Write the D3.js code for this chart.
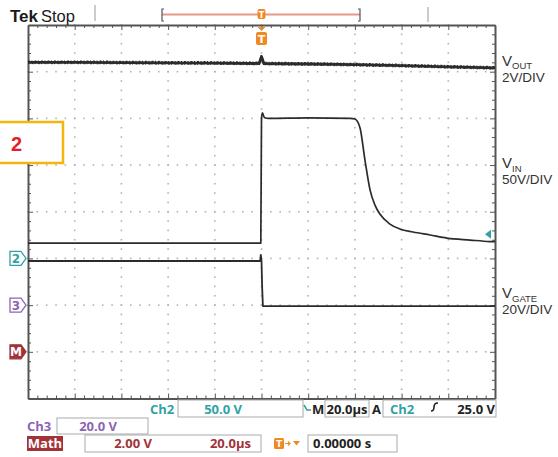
<!DOCTYPE html>
<meta charset="utf-8">
<html>
<head><title>Tek scope capture</title>
<script src="https://d3js.org/d3.v7.min.js"></script>
<style>
    body { margin: 0; background: #fff; }
    .grat { fill: #b3b3b3; }
    .frame path, .frame line { stroke: #555; }
    .trace { fill: none; stroke: #2b2b2b; stroke-linejoin: round; }
    .rd { font-family: "Open Sans", "DejaVu Sans", sans-serif; font-weight: bold; font-size: 13px; }
    .box { fill: #fff; stroke: #aaa; stroke-width: 1; }
    .lbl { font-family: "Liberation Sans", Arial, sans-serif; font-size: 13.5px; fill: #333; }
</style>
</head>
<body>
<script>
// screen geometry of the graticule (10 x 8 divisions)
var W = 558, H = 457;
var gLeft = 28, gRight = 495, gTop = 25, gBottom = 398.5;

// time axis in microseconds, 20us/div, trigger in the middle
var timeDomain = [-100, 100];

// channel settings: volts per division and ground position (divisions from center)
var ch1 = {vdiv: 2, pos: -2.8};
var ch2 = {vdiv: 50, pos: -1};
var ch3 = {vdiv: 20, pos: -2};
var trigLevel = 26;  // V on ch2 (arrow position)

// VOUT (ch1)
var voutT = [-100, -80, -60, -40, -20, -1, 0, 1, 20, 40, 60, 80, 100];
var voutV = [12.0, 12.0, 11.99, 11.98, 11.97, 11.95, 12.25, 11.95, 11.93, 11.9, 11.86, 11.81, 11.76];

// VIN (ch2)
var vinT = [-100, -0.3, 0, 0.4, 1.2, 3, 20, 38, 40, 42.2, 44.3, 46.5, 48.6, 50.7, 55, 59.3, 64.9, 72.2, 79.4, 89.3, 97.8, 100];
var vinV = [16.5, 16.5, 150, 156, 151, 150, 150.5, 150, 149.3, 139.8, 105.4, 73.2, 57.1, 47.5, 36.8, 31.5, 28.3, 25.1, 21.8, 19.7, 18.1, 17.9];

// VGATE (ch3)
var gateT = [-100, -0.6, -0.3, 0, 0.3, 0.6, 1.5, 100];
var gateV = [18.9, 18.9, 21.5, 19, 7, -0.4, -0.4, -0.4];

// readout texts
var readRow1 = ["Ch2", "50.0 V", "M", "20.0\u00b5s", "A", "Ch2", "25.0 V"];
var readRow2 = ["Ch3", "20.0 V"];
var readRow3 = ["Math", "2.00 V", "20.0\u00b5s", "0.00000 s"];

var teal = "#2fa3a6", purple = "#8c64b4", maroon = "#a2323a", orange = "#ef8a22";

var svg = d3.select("body").append("svg").attr("width", W).attr("height", H);

var x = d3.scaleLinear().domain(timeDomain).range([gLeft, gRight]);
var yDiv = d3.scaleLinear().domain([-4, 4]).range([gBottom, gTop]);
var xDiv = d3.scaleLinear().domain([-5, 5]).range([gLeft, gRight]);
function yOf(ch) { return function(v) { return yDiv(v / ch.vdiv + ch.pos); }; }

// graticule dots
var minor = d3.range(-25, 26).map(function(i) { return i / 5; });
var minorV = d3.range(-20, 21).map(function(i) { return i / 5; });
var g = svg.append("g");
d3.range(-4, 5).forEach(function(i) {
    g.selectAll(null).data(minorV).enter().append("rect").attr("class", "grat")
        .attr("x", xDiv(i) - 0.8).attr("y", function(d) { return yDiv(d) - 0.8; })
        .attr("width", 1.6).attr("height", 1.6);
});
d3.range(-3, 4).forEach(function(j) {
    g.selectAll(null).data(minor).enter().append("rect").attr("class", "grat")
        .attr("x", function(d) { return xDiv(d) - 0.8; }).attr("y", yDiv(j) - 0.8)
        .attr("width", 1.6).attr("height", 1.6);
});

// frame with inward ticks
function tickLen(d) { return Math.abs(d - Math.round(d)) < 1e-6 ? 5 : 3; }
function frameAxis(axis, transform) {
    var a = svg.append("g").attr("class", "frame").attr("transform", transform).call(axis);
    a.selectAll("text").remove();
    a.select(".domain").attr("stroke-width", 2);
    return a;
}
var fa;
fa = frameAxis(d3.axisBottom(xDiv).tickValues(minor).tickSizeOuter(0), "translate(0," + gTop + ")");
fa.selectAll(".tick line").attr("y2", function(d) { return tickLen(d); });
fa = frameAxis(d3.axisTop(xDiv).tickValues(minor).tickSizeOuter(0), "translate(0," + gBottom + ")");
fa.selectAll(".tick line").attr("y2", function(d) { return -tickLen(d); });
fa = frameAxis(d3.axisRight(yDiv).tickValues(minorV).tickSizeOuter(0), "translate(" + gLeft + ",0)");
fa.selectAll(".tick line").attr("x2", function(d) { return tickLen(d); });
fa = frameAxis(d3.axisLeft(yDiv).tickValues(minorV).tickSizeOuter(0), "translate(" + gRight + ",0)");
fa.selectAll(".tick line").attr("x2", function(d) { return -tickLen(d); });

// traces
function drawTrace(ts, vs, ch, w, curve) {
    var pts = ts.map(function(t, i) { return [t, vs[i]]; });
    var line = d3.line().x(function(d) { return x(d[0]); }).y(function(d) { return yOf(ch)(d[1]); })
        .curve(curve || d3.curveLinear);
    return svg.append("path").attr("class", "trace").attr("d", line(pts)).attr("stroke-width", w);
}
drawTrace(voutT, voutV, ch1, 2.8);
drawTrace(voutT, voutV, ch1, 1.2).attr("stroke", "#111").attr("stroke-dasharray", "2,1.5,1,2")
    .attr("transform", "translate(0,-1.3)");
drawTrace(voutT, voutV, ch1, 1.0).attr("stroke", "#333").attr("stroke-dasharray", "1,2.5,2,1")
    .attr("transform", "translate(0,1.3)");
drawTrace(vinT, vinV, ch2, 1.7, d3.curveMonotoneX);
drawTrace(gateT, gateV, ch3, 1.8);

// trigger level arrow on right edge
var ty = yOf(ch2)(trigLevel);
svg.append("path").attr("fill", teal)
    .attr("d", "M" + (gRight - 10) + "," + ty + "l6,-4.5v9z");

// channel ground markers on left
function marker(y, txt, col, filled) {
    var m = svg.append("g").attr("transform", "translate(10," + y + ")");
    m.append("path").attr("d", "M0,-7h11l5,7l-5,7h-11z")
        .attr("fill", filled ? col : "#fff").attr("stroke", col).attr("stroke-width", 1.3);
    m.append("text").attr("x", 6).attr("y", 4.5).attr("text-anchor", "middle")
        .attr("font-family", "DejaVu Sans, sans-serif").attr("font-weight", "bold").attr("font-size", 12)
        .attr("fill", filled ? "#fff" : col).text(txt);
}
marker(yOf(ch2)(0), "2", teal, false);
marker(yOf(ch3)(0), "3", purple, false);
marker(yDiv(-3), "M", maroon, true);

// header
svg.append("text").attr("x", 10).attr("y", 22).attr("font-family", "Liberation Sans, Arial, sans-serif")
    .attr("font-weight", "bold").attr("font-size", 17).attr("fill", "#1a1a1a").text("Tek");
svg.append("text").attr("x", 41).attr("y", 22).attr("font-family", "Liberation Sans, Arial, sans-serif")
    .attr("font-size", 16.5).attr("fill", "#1a1a1a").text("Stop");
svg.append("line").attr("x1", 95).attr("x2", 95).attr("y1", 5).attr("y2", 21).attr("stroke", "#999");
svg.append("line").attr("x1", 428).attr("x2", 428).attr("y1", 7).attr("y2", 22).attr("stroke", "#999");
svg.append("line").attr("x1", 162).attr("x2", 360).attr("y1", 14.5).attr("y2", 14.5)
    .attr("stroke", "#e39a8a").attr("stroke-width", 2);
svg.append("path").attr("d", "M164,9h-2v12h2M358,9h2v12h-2").attr("fill", "none").attr("stroke", "#555").attr("stroke-width", 1.2);
svg.append("rect").attr("x", x(0) - 4).attr("y", 9).attr("width", 8).attr("height", 10).attr("rx", 2).attr("fill", orange);
svg.append("text").attr("x", x(0)).attr("y", 17.5).attr("text-anchor", "middle").attr("font-size", 8)
    .attr("font-family", "DejaVu Sans").attr("font-weight", "bold").attr("fill", "#fff").text("T");

// trigger position marker under top edge
svg.append("path").attr("d", "M" + (x(0) - 4) + ",27h8l-4,4z").attr("fill", orange);
svg.append("rect").attr("x", x(0) - 5.5).attr("y", 32).attr("width", 11).attr("height", 13).attr("rx", 2).attr("fill", orange);
svg.append("text").attr("x", x(0)).attr("y", 43).attr("text-anchor", "middle").attr("font-size", 11)
    .attr("font-family", "DejaVu Sans").attr("font-weight", "bold").attr("fill", "#fff").text("T");

// right-hand labels
function sideLabel(y, sub, scaleTxt) {
    var t = svg.append("text").attr("class", "lbl").attr("x", 502).attr("y", y);
    t.append("tspan").attr("font-size", 15).text("V");
    t.append("tspan").attr("font-size", 9.5).attr("dy", 3.5).text(sub);
    svg.append("text").attr("class", "lbl").attr("x", 502).attr("y", y + 16).text(scaleTxt);
}
sideLabel(65.5, "OUT", "2V/DIV");
sideLabel(168, "IN", "50V/DIV");
sideLabel(298, "GATE", "20V/DIV");

// figure tag
svg.append("rect").attr("x", -2).attr("y", 122).attr("width", 65).attr("height", 41)
    .attr("fill", "#fff").attr("stroke", "#f5b50a").attr("stroke-width", 2.5);
svg.append("text").attr("x", 11).attr("y", 151).attr("font-family", "Liberation Sans, Arial, sans-serif")
    .attr("font-weight", "bold").attr("font-size", 20).attr("fill", "#e2202a").text("2");

// readouts
function box(x0, y0, w, h) { svg.append("rect").attr("class", "box").attr("x", x0).attr("y", y0).attr("width", w).attr("height", h); }
function rt(x0, y0, txt, col, anchor) {
    return svg.append("text").attr("class", "rd").attr("x", x0).attr("y", y0).attr("fill", col)
        .attr("text-anchor", anchor || "start").text(txt);
}
box(178, 400, 125, 17);
box(325, 400, 44, 17);
box(383, 400, 113, 17);
rt(150, 414, readRow1[0], teal);
rt(242, 414, readRow1[1], teal, "end");
svg.append("path").attr("d", "M304,405l3,5h4").attr("fill", "none").attr("stroke", teal).attr("stroke-width", 1.5);
rt(312, 414, readRow1[2], "#222");
rt(347, 414, readRow1[3], "#222", "middle");
rt(372, 414, readRow1[4], "#222");
rt(390, 414, readRow1[5], teal);
svg.append("path").attr("d", "M431,411c2,0 3,-2 3,-4s1,-4 4,-4").attr("fill", "none").attr("stroke", "#222").attr("stroke-width", 1.6);
rt(495, 414, readRow1[6], "#222", "end");

box(57, 418, 91, 16);
rt(27, 431, readRow2[0], purple);
rt(117, 431, readRow2[1], purple, "end");

svg.append("rect").attr("x", 27).attr("y", 436).attr("width", 36).attr("height", 15).attr("fill", maroon);
rt(45, 448, readRow3[0], "#fff", "middle");
box(85, 435, 176, 17);
rt(152, 448, readRow3[1], maroon, "end");
rt(251, 448, readRow3[2], maroon, "end");
svg.append("rect").attr("x", 274).attr("y", 438).attr("width", 10).attr("height", 11).attr("rx", 1.5).attr("fill", orange);
svg.append("text").attr("x", 279).attr("y", 447).attr("text-anchor", "middle").attr("font-size", 9)
    .attr("font-family", "DejaVu Sans").attr("font-weight", "bold").attr("fill", "#fff").text("T");
svg.append("path").attr("d", "M285,443.5h5M288,441.5l2,2l-2,2").attr("fill", "none").attr("stroke", orange).attr("stroke-width", 1.2);
svg.append("path").attr("d", "M293,441h7l-3.5,4.5z").attr("fill", orange);
box(308, 435, 89, 17);
rt(313, 448, readRow3[3], "#222");
</script>
</body>
</html>
